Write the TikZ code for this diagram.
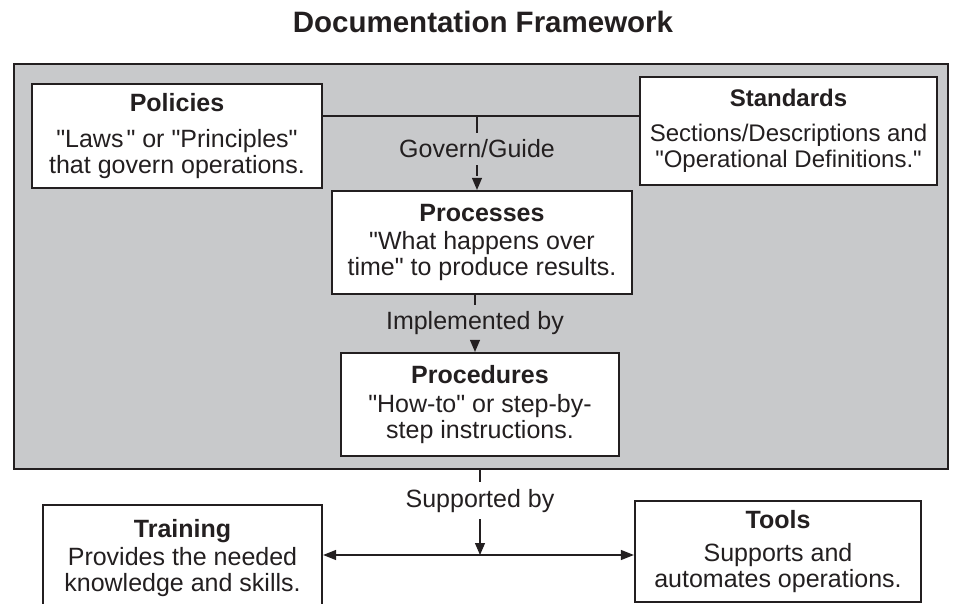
\documentclass[tikz,border=0pt]{standalone}
\usepackage{fontspec}
\setmainfont{Liberation Sans}
\usetikzlibrary{arrows.meta,calc}
\definecolor{ink}{HTML}{231F20}
\definecolor{panel}{HTML}{C8C9CB}
\newcommand{\dq}{\XeTeXglyph\XeTeXcharglyph"22\relax}
\begin{document}
\begin{tikzpicture}[x=1pt,y=-1pt,
  box/.style={draw=ink,line width=2.2pt,fill=white,text=ink,align=center,inner sep=0pt,font=\fontsize{25}{26}\selectfont},
  lbl/.style={text=ink,inner xsep=2pt,inner ysep=7pt,font=\fontsize{25}{26}\selectfont,anchor=base},
  conn/.style={draw=ink,line width=1.1pt},
  tip/.style={-{Triangle[length=12pt,width=10pt]}},
  dtip/.style={{Triangle[length=13pt,width=10pt]}-{Triangle[length=13pt,width=10pt]}}]
\useasboundingbox (0,0) rectangle (954,604);
\node[anchor=base,text=ink,inner sep=0pt,font=\fontsize{29.5}{30}\selectfont\bfseries] (title) at (483,33) {Documentation Framework};
\node[draw=ink,line width=2.5pt,fill=panel,minimum width=934pt,minimum height=405pt,inner sep=0pt] (frame) at (481,266.5) {};
\node[box,minimum width=290pt,minimum height=104pt] (pol) at (177,136) {\textbf{Policies}\\[10pt]\dq Laws\hspace{3pt}\dq{} or \dq Principles\dq\\that govern operations.};
\node[box,minimum width=297pt,minimum height=108pt,font=\fontsize{24}{26}\selectfont] (std) at (788.5,131) {\textbf{Standards}\\[9pt]Sections/Descriptions and\\\dq Operational Definitions.\dq};
\node[box,minimum width=300pt,minimum height=103pt] (proc) at (482,242.5) {\textbf{Processes}\\[2pt]\dq What happens over\\time\dq{} to produce results.};
\node[box,minimum width=278pt,minimum height=103pt] (prod) at (480,404.5) {\textbf{Procedures}\\[3pt]\dq How-to\dq{} or step-by-\\step instructions.};
\node[box,minimum width=279pt,minimum height=107pt] (train) at (182.5,558.5) {\textbf{Training}\\[2pt]Provides the needed\\knowledge and skills.};
\node[box,minimum width=286pt,minimum height=101pt] (tools) at (778,551.5) {\textbf{Tools}\\[7pt]Supports and\\automates operations.};
% govern / guide
\coordinate (join) at (477,116);
\draw[conn] (pol.east |- join) -- (std.west |- join);
\node[lbl] (gg) at (477,158) {Govern/Guide};
\draw[conn] (join) -- (gg.north);
\draw[conn,tip,dash pattern=on 11pt off 3pt] (gg.south) -- (gg.south |- proc.north);
% implemented by
\node[lbl] (impl) at (475,330) {Implemented by};
\draw[conn] (impl |- proc.south) -- (impl.north);
\draw[conn,tip] (impl.south) -- (impl |- prod.north);
% supported by
\node[lbl] (sup) at (480,507) {Supported by};
\draw[conn] (sup |- frame.south) -- (sup.north);
\coordinate (hub) at (480,555);
\draw[conn,tip] (sup.south) -- (hub);
\draw[conn,dtip] (train.east |- hub) -- (tools.west |- hub);
\end{tikzpicture}
\end{document}
